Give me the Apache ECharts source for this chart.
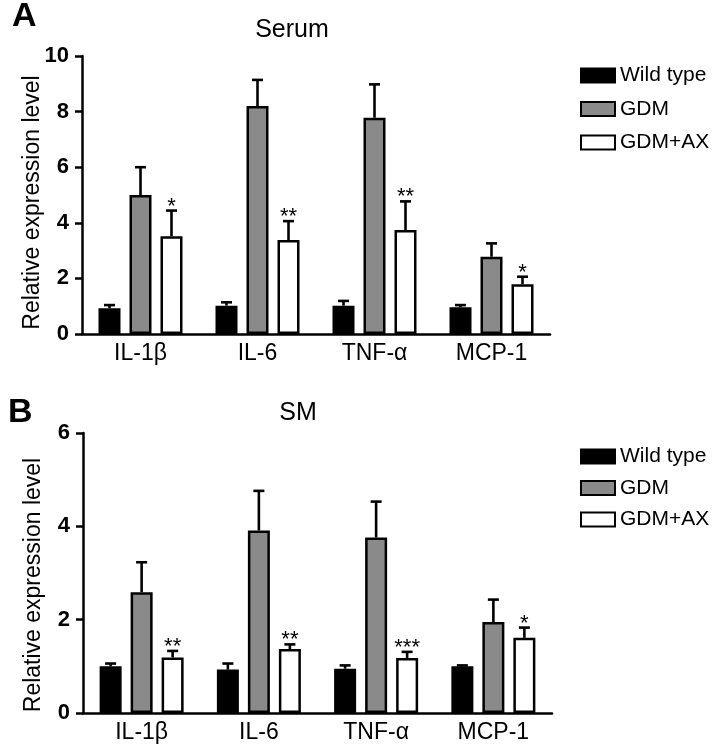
<!DOCTYPE html>
<html>
<head>
<meta charset="utf-8">
<script src="https://cdn.jsdelivr.net/npm/echarts@6/dist/echarts.min.js"></script>
<style>html,body{margin:0;padding:0;background:#fff;}#c{width:720px;height:744px;}</style>
</head>
<body>
<div id="c"></div>
<script>
const categories = ['IL-1β', 'IL-6', 'TNF-α', 'MCP-1'];
const groups = ['Wild type', 'GDM', 'GDM+AX'];

const serumWT = [0.93, 1.02, 1.02, 0.96];
const serumWTErr = [0.11, 0.12, 0.17, 0.08];
const serumGDM = [5.0, 8.2, 7.78, 2.78];
const serumGDMErr = [1.0, 0.94, 1.2, 0.48];
const serumAX = [3.52, 3.38, 3.74, 1.79];
const serumAXErr = [0.92, 0.68, 1.03, 0.27];
const serumSig = ['*', '**', '**', '*'];

const smWT = [1.0, 0.93, 0.95, 1.0];
const smWTErr = [0.06, 0.13, 0.07, 0.02];
const smGDM = [2.59, 3.91, 3.76, 1.95];
const smGDMErr = [0.64, 0.85, 0.77, 0.48];
const smAX = [1.19, 1.37, 1.18, 1.61];
const smAXErr = [0.14, 0.10, 0.13, 0.22];
const smSig = ['**', '**', '***', '*'];

const serumTicks = [0, 2, 4, 6, 8, 10];
const smTicks = [0, 2, 4, 6];

const FONT = 'Liberation Sans, Arial, sans-serif';
const BAR_W = 22;
const BAR_GAP = 9;
const colors = ['#000000', '#8a8a8a', '#ffffff'];

function barSeries(axisIdx, name, data, color) {
  return {
    type: 'bar', name: name, xAxisIndex: axisIdx, yAxisIndex: axisIdx,
    data: data, barWidth: BAR_W, barGap: (BAR_GAP / BAR_W * 100) + '%',
    itemStyle: { color: color, borderColor: '#000', borderWidth: 2.5 },
    emphasis: { disabled: true }, animation: false, z: 2
  };
}

function errSeries(axisIdx, name, idx, vals, errs, sigs) {
  return {
    type: 'custom', name: name, xAxisIndex: axisIdx, yAxisIndex: axisIdx,
    data: vals.map((v, i) => [i, v, v + errs[i]]),
    z: 5, animation: false, silent: true,
    renderItem: function (params, api) {
      const base = api.coord([api.value(0), api.value(1)]);
      const top = api.coord([api.value(0), api.value(2)]);
      const x = base[0] + (idx - 1) * (BAR_W + BAR_GAP);
      const st = { stroke: '#000', lineWidth: 2.6 };
      const children = [
        { type: 'line', shape: { x1: x, y1: base[1], x2: x, y2: top[1] }, style: st },
        { type: 'line', shape: { x1: x - 5.5, y1: top[1], x2: x + 5.5, y2: top[1] }, style: st }
      ];
      if (sigs) {
        children.push({
          type: 'text', x: x, y: top[1] + 7,
          style: { text: sigs[params.dataIndex], font: '22px ' + FONT, fill: '#000', align: 'center', verticalAlign: 'bottom' }
        });
      }
      return { type: 'group', children: children };
    }
  };
}

function yAxis(gi, max, ticks, shift) {
  return {
    type: 'value', gridIndex: gi, min: 0, max: max, interval: ticks[1] - ticks[0],
    name: 'Relative expression level', nameLocation: 'middle', nameGap: 38,
    nameMoveOverlap: false,
    nameTextStyle: { fontFamily: FONT, fontSize: 23, color: '#000', padding: [0, shift, 0, 0] },
    axisLine: { show: true, lineStyle: { color: '#000', width: 2.5 } },
    axisTick: { show: true, length: 7, lineStyle: { color: '#000', width: 2.5 } },
    axisLabel: { fontFamily: FONT, fontSize: 22, fontWeight: 'bold', color: '#000', margin: 13 },
    splitLine: { show: false }
  };
}

function xAxis(gi) {
  return {
    type: 'category', gridIndex: gi, data: categories,
    axisLine: { show: true, lineStyle: { color: '#000', width: 2.5 } },
    axisTick: { show: false },
    axisLabel: { fontFamily: FONT, fontSize: 23, color: '#000', margin: 8 }
  };
}

function legend(top, gap) {
  return {
    orient: 'vertical', left: 575, top: top, data: groups,
    icon: 'rect', itemWidth: 34, itemHeight: 14, itemGap: gap,
    selectedMode: false,
    textStyle: { fontFamily: FONT, fontSize: 21, color: '#000' }
  };
}

const chart = echarts.init(document.getElementById('c'), null, { renderer: 'canvas' });
chart.setOption({
  backgroundColor: '#fff',
  animation: false,
  grid: [
    { left: 82, top: 56, width: 468, height: 278 },
    { left: 83, top: 433, width: 469, height: 280 }
  ],
  xAxis: [xAxis(0), xAxis(1)],
  yAxis: [yAxis(0, 10, serumTicks, 15), yAxis(1, 6, smTicks, 24)],
  legend: [legend(60, 12.5), legend(441, 10.5)],
  graphic: [
    { type: 'text', x: 12, y: 0, style: { text: 'A', font: 'bold 34px ' + FONT, fill: '#000' } },
    { type: 'text', x: 8, y: 396, style: { text: 'B', font: 'bold 34px ' + FONT, fill: '#000' } },
    { type: 'text', x: 292, y: 30, style: { text: 'Serum', font: '25px ' + FONT, fill: '#000', align: 'center', verticalAlign: 'middle' } },
    { type: 'text', x: 298, y: 413, style: { text: 'SM', font: '25px ' + FONT, fill: '#000', align: 'center', verticalAlign: 'middle' } }
  ],
  series: [
    barSeries(0, groups[0], serumWT, colors[0]),
    barSeries(0, groups[1], serumGDM, colors[1]),
    barSeries(0, groups[2], serumAX, colors[2]),
    errSeries(0, groups[0], 0, serumWT, serumWTErr, null),
    errSeries(0, groups[1], 1, serumGDM, serumGDMErr, null),
    errSeries(0, groups[2], 2, serumAX, serumAXErr, serumSig),
    barSeries(1, groups[0], smWT, colors[0]),
    barSeries(1, groups[1], smGDM, colors[1]),
    barSeries(1, groups[2], smAX, colors[2]),
    errSeries(1, groups[0], 0, smWT, smWTErr, null),
    errSeries(1, groups[1], 1, smGDM, smGDMErr, null),
    errSeries(1, groups[2], 2, smAX, smAXErr, smSig)
  ]
});
</script>
</body>
</html>
